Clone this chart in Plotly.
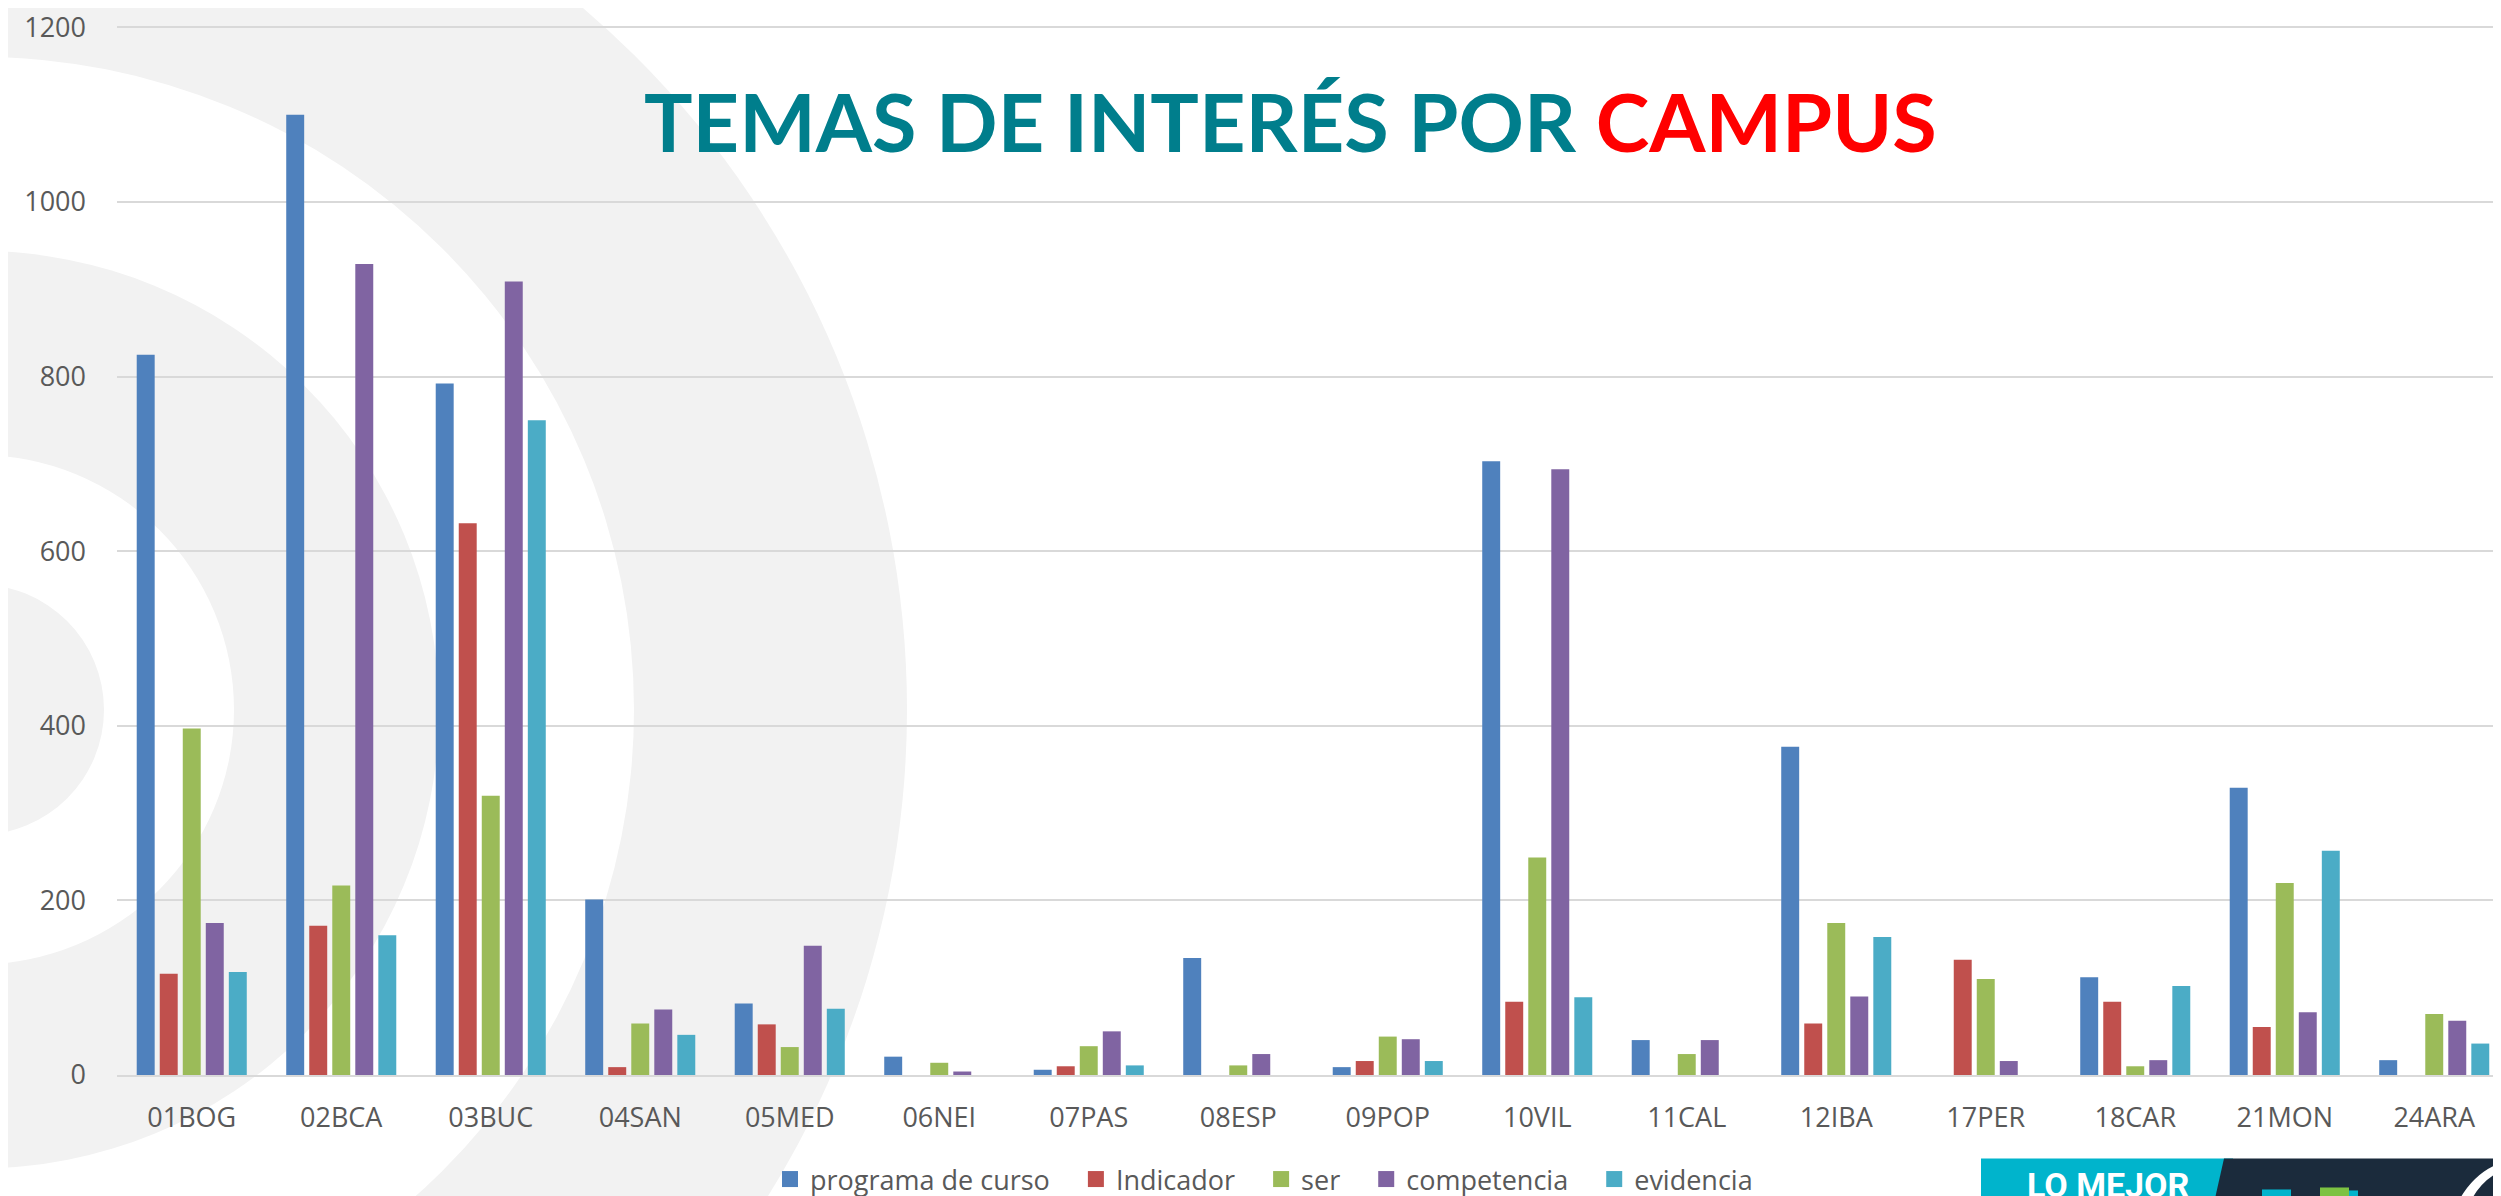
import plotly.graph_objects as go

categories = ["01BOG", "02BCA", "03BUC", "04SAN", "05MED", "06NEI", "07PAS", "08ESP",
              "09POP", "10VIL", "11CAL", "12IBA", "17PER", "18CAR", "21MON", "24ARA"]
programa_de_curso = [825, 1100, 792, 201, 82, 21, 6, 134, 9, 703, 40, 376, None, 112, 329, 17]
indicador = [116, 171, 632, 9, 58, None, 10, None, 16, 84, None, 59, 132, 84, 55, None]
ser = [397, 217, 320, 59, 32, 14, 33, 11, 44, 249, 24, 174, 110, 10, 220, 70]
competencia = [174, 929, 909, 75, 148, 4, 50, 24, 41, 694, 40, 90, 16, 17, 72, 62]
evidencia = [118, 160, 750, 46, 76, None, 11, None, 16, 89, None, 158, None, 102, 257, 36]
y_ticks = [0, 200, 400, 600, 800, 1000, 1200]

series = [
    ("programa de curso", programa_de_curso, "#4F81BD"),
    ("Indicador", indicador, "#C0504D"),
    ("ser", ser, "#9BBB59"),
    ("competencia", competencia, "#8064A2"),
    ("evidencia", evidencia, "#4BACC6"),
]

W, H = 2501, 1196
ML, MR, MT, MB = 109, 0, 0, 124
PW = W - ML - MR
PH = H - MT - MB
PLOT_BOTTOM = MT + PH
Y_TOP = 1200 * PLOT_BOTTOM / (PLOT_BOTTOM - 19.5)


def px_x(x):
    return (x - ML) / PW


def px_y(y):
    return (PLOT_BOTTOM - y) / PH


fig = go.Figure()
for name, vals, color in series:
    fig.add_trace(go.Bar(name=name, x=categories, y=vals, marker_color=color,
                         marker_line_width=0, showlegend=False, legendgroup=name))
# legend entries with larger square swatches
pad = "\u00a0" * 3
for i, (name, vals, color) in enumerate(series):
    label = name + (pad if i < len(series) - 1 else "")
    fig.add_trace(go.Scatter(name=label, x=[None], y=[None], mode="markers",
                             marker=dict(symbol="square", size=18, color=color),
                             legendgroup=name, showlegend=True, hoverinfo="skip"))

shapes = []
# background watermark rings
cx, cy = -30, 705
rings = [(929, "#F2F2F2"), (656, "#FFFFFF"), (461, "#F2F2F2"), (256, "#FFFFFF"), (126, "#F2F2F2")]
for r, col in rings:
    shapes.append(dict(type="circle", xref="paper", yref="paper",
                       x0=px_x(cx - r), x1=px_x(cx + r), y0=px_y(cy + r), y1=px_y(cy - r),
                       fillcolor=col, line_width=0, layer="below"))

# logo banner bottom right
shapes.append(dict(type="rect", xref="paper", yref="paper",
                   x0=px_x(1973), x1=px_x(2225), y0=px_y(1196), y1=px_y(1156),
                   fillcolor="#00B4CC", line_width=0, layer="above"))
shapes.append(dict(type="path", xref="paper", yref="paper",
                   path=f"M {px_x(2216)} {px_y(1156)} L {px_x(2501)} {px_y(1156)} L {px_x(2501)} {px_y(1196)} L {px_x(2207)} {px_y(1196)} Z",
                   fillcolor="#1B2B3C", line_width=0, layer="above"))
shapes.append(dict(type="rect", xref="paper", yref="paper",
                   x0=px_x(2254), x1=px_x(2283), y0=px_y(1196), y1=px_y(1187),
                   fillcolor="#00B4CC", line_width=0, layer="above"))
shapes.append(dict(type="rect", xref="paper", yref="paper",
                   x0=px_x(2312), x1=px_x(2341), y0=px_y(1196), y1=px_y(1185),
                   fillcolor="#7DC242", line_width=0, layer="above"))
shapes.append(dict(type="rect", xref="paper", yref="paper",
                   x0=px_x(2341), x1=px_x(2350), y0=px_y(1196), y1=px_y(1188),
                   fillcolor="#00B4CC", line_width=0, layer="above"))
shapes.append(dict(type="path", xref="paper", yref="paper",
                   path=f"M {px_x(2452)} {px_y(1196)} Q {px_x(2470)} {px_y(1165)} {px_x(2501)} {px_y(1158)} L {px_x(2501)} {px_y(1166)} Q {px_x(2478)} {px_y(1172)} {px_x(2464)} {px_y(1196)} Z",
                   fillcolor="#FFFFFF", line_width=0, layer="above"))

annotations = [
    dict(text="<b>TEMAS DE INTERÉS POR <span style='color:#FF0000'>CAMPUS</span></b>",
         xref="paper", yref="paper", x=px_x(1282), y=px_y(113), xanchor="center", yanchor="middle",
         showarrow=False, font=dict(family="Lato", size=81, color="#007E8C")),
    dict(text="<b>LO MEJOR</b>", xref="paper", yref="paper", x=px_x(2100), y=px_y(1160),
         xanchor="center", yanchor="top", showarrow=False,
         font=dict(family="Roboto", size=34, color="#FFFFFF")),
]

fig.update_layout(
    width=W, height=H,
    margin=dict(l=ML, r=MR, t=MT, b=MB, pad=0),
    paper_bgcolor="#FFFFFF",
    plot_bgcolor="rgba(0,0,0,0)",
    barmode="group",
    bargap=0.23,
    bargroupgap=0.22,
    shapes=shapes,
    annotations=annotations,
    font=dict(family="Open Sans", color="#595959"),
    legend=dict(orientation="h", x=px_x(1256), y=px_y(1177), xanchor="center", yanchor="middle",
                font=dict(size=27, color="#595959"), bgcolor="rgba(0,0,0,0)",
                traceorder="normal", itemwidth=30),
    xaxis=dict(showgrid=False, showline=True, linecolor="#D9D9D9", linewidth=2,
               ticks="", tickfont=dict(size=27, color="#595959"), ticklabelstandoff=18,
               range=[-0.5, 15.5]),
    yaxis=dict(range=[0, Y_TOP], tickvals=y_ticks, showgrid=True, gridcolor="#D9D9D9", gridwidth=2,
               zeroline=False, showline=False, ticks="", tickfont=dict(size=27, color="#595959"),
               ticklabelstandoff=30, ticklabeloverflow="allow"),
)

fig.write_html("out.html")
